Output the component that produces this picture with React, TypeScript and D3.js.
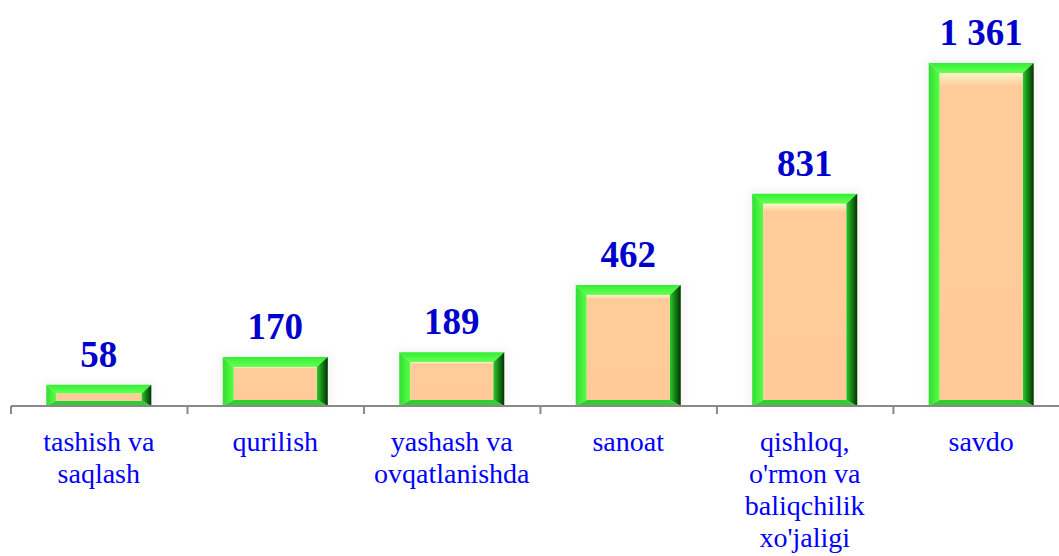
import React, { useRef, useEffect } from "react";
import * as d3 from "d3";

const categories = [
  ["tashish va", "saqlash"],
  ["qurilish"],
  ["yashash va", "ovqatlanishda"],
  ["sanoat"],
  ["qishloq,", "o'rmon va", "baliqchilik", "xo'jaligi"],
  ["savdo"],
];
const values = [58, 170, 189, 462, 831, 1361];
const valueLabels = ["58", "170", "189", "462", "831", "1 361"];

export default function App() {
  const svgRef = useRef<SVGSVGElement>(null);

  useEffect(() => {
    if (!svgRef.current) return;
    const svg = d3.select(svgRef.current);
    svg.selectAll("*").remove();

    const width = 1059;
    const axisY = 406;

    const x = d3.scaleBand<number>()
      .domain(d3.range(values.length))
      .range([11, 1069])
      .paddingInner(0.405)
      .paddingOuter(0.2);

    const y = d3.scaleLinear()
      .domain([0, 1361])
      .range([399, 63]);

    const defs = svg.append("defs");
    const rg = defs.append("linearGradient").attr("id", "rightBevel")
      .attr("x1", "0").attr("x2", "1").attr("y1", "0").attr("y2", "0");
    rg.append("stop").attr("offset", "0").attr("stop-color", "#2acc2a");
    rg.append("stop").attr("offset", "1").attr("stop-color", "#003300");
    const tg = defs.append("linearGradient").attr("id", "topBevel")
      .attr("x1", "0").attr("x2", "0").attr("y1", "0").attr("y2", "1");
    tg.append("stop").attr("offset", "0").attr("stop-color", "#33ee33");
    tg.append("stop").attr("offset", "1").attr("stop-color", "#66ff55");
    const lg = defs.append("linearGradient").attr("id", "leftBevel")
      .attr("x1", "0").attr("x2", "1").attr("y1", "0").attr("y2", "0");
    lg.append("stop").attr("offset", "0").attr("stop-color", "#33dd33");
    lg.append("stop").attr("offset", "1").attr("stop-color", "#55ff44");
    const ig = defs.append("linearGradient").attr("id", "inner")
      .attr("x1", "0").attr("x2", "0").attr("y1", "0").attr("y2", "1");
    ig.append("stop").attr("offset", "0").attr("stop-color", "#fff4c8");
    ig.append("stop").attr("offset", "0.04").attr("stop-color", "#ffcc99");
    ig.append("stop").attr("offset", "1").attr("stop-color", "#ffca98");
    const blur = defs.append("filter").attr("id", "glow")
      .attr("x", "-20%").attr("y", "-20%").attr("width", "140%").attr("height", "140%");
    blur.append("feGaussianBlur").attr("stdDeviation", 4);

    // Bars
    values.forEach((v, i) => {
      const x0 = x(i)!;
      const x1 = x0 + x.bandwidth();
      const y0 = y(v);
      const y1 = axisY;
      const k = Math.min(1, ((y1 - y0) * 0.42) / 10);
      const bx = 11 * k;
      const bt = 10 * k;
      const bb = 6 * k;
      const g = svg.append("g");

      g.append("rect")
        .attr("x", x0 - 3).attr("y", y0 - 3)
        .attr("width", x1 - x0 + 6).attr("height", y1 - y0 + 3)
        .attr("fill", "#dddddd").attr("opacity", 0.35)
        .attr("filter", "url(#glow)");

      const poly = (pts: [number, number][], fill: string) =>
        g.append("polygon").attr("points", pts.map(p => p.join(",")).join(" ")).attr("fill", fill);

      poly([[x0, y0], [x1, y0], [x1 - bx, y0 + bt], [x0 + bx, y0 + bt]], "url(#topBevel)");
      poly([[x0, y0], [x0 + bx, y0 + bt], [x0 + bx, y1 - bb], [x0, y1]], "url(#leftBevel)");
      poly([[x1, y0], [x1, y1], [x1 - bx, y1 - bb], [x1 - bx, y0 + bt]], "url(#rightBevel)");
      poly([[x0, y1], [x0 + bx, y1 - bb], [x1 - bx, y1 - bb], [x1, y1]], "#33cc33");

      g.append("rect")
        .attr("x", x0 + bx).attr("y", y0 + bt)
        .attr("width", x1 - x0 - 2 * bx)
        .attr("height", Math.max(0, y1 - bb - (y0 + bt)))
        .attr("fill", "url(#inner)");
    });

    // Axis
    svg.append("line")
      .attr("x1", 11).attr("x2", width).attr("y1", axisY).attr("y2", axisY)
      .attr("stroke", "#898989").attr("stroke-width", 2);
    const step = x.step();
    d3.range(values.length + 1).forEach(i => {
      const tx = 11 + i * step;
      if (tx > width) return;
      svg.append("line")
        .attr("x1", tx).attr("x2", tx).attr("y1", axisY).attr("y2", axisY + 8)
        .attr("stroke", "#898989").attr("stroke-width", 2);
    });

    // Value labels
    svg.selectAll("text.val")
      .data(values)
      .join("text")
      .attr("class", "val")
      .attr("x", (_, i) => x(i)! + x.bandwidth() / 2)
      .attr("y", d => y(d) - 18)
      .attr("text-anchor", "middle")
      .attr("font-family", "'Liberation Serif', 'Times New Roman', serif")
      .attr("font-weight", "bold")
      .attr("font-size", 37)
      .attr("fill", "#0000cc")
      .text((_, i) => valueLabels[i]);

    // Category labels
    categories.forEach((lines, i) => {
      const cx = x(i)! + x.bandwidth() / 2;
      const t = svg.append("text")
        .attr("x", cx)
        .attr("y", 451)
        .attr("text-anchor", "middle")
        .attr("font-family", "'Liberation Serif', 'Times New Roman', serif")
        .attr("font-size", 28)
        .attr("fill", "#0000ff");
      lines.forEach((l, j) => {
        t.append("tspan")
          .attr("x", cx)
          .attr("dy", j === 0 ? 0 : 32)
          .text(l);
      });
    });
  }, []);

  return (
    <svg
      ref={svgRef}
      width={1059}
      height={556}
      viewBox="0 0 1059 556"
      style={{ position: "absolute", left: 0, top: 0, background: "#fff" }}
    />
  );
}
